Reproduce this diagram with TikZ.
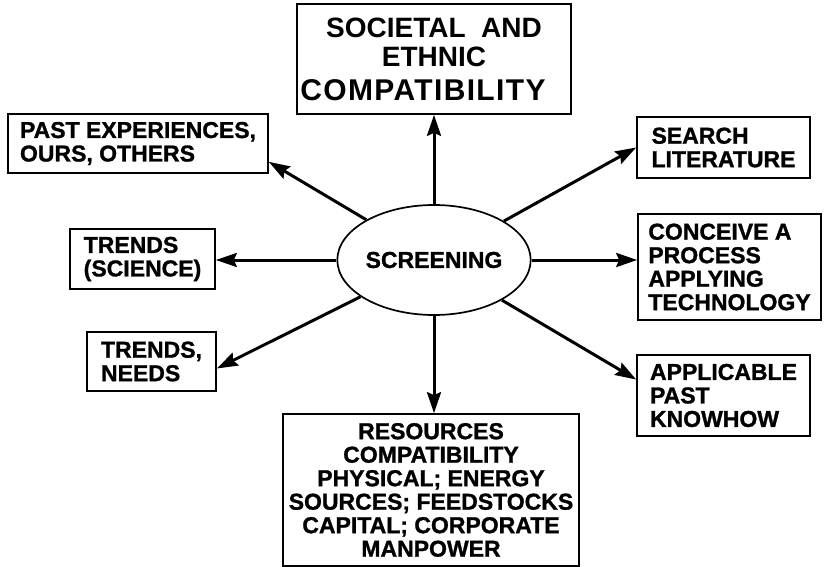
\documentclass[tikz,border=0pt]{standalone}
\usepackage{fontspec}
\setmainfont{Liberation Sans}
\newfontfamily\widefont[LetterSpace=4.5]{Liberation Sans}
\newfontfamily\heavy[BoldFeatures={FakeBold=1.2}]{Liberation Sans}
\usetikzlibrary{arrows.meta,shapes.geometric,calc}
\tikzset{
  box/.style={draw, line width=1.7pt, rectangle, inner sep=0pt, align=left,
    font=\heavy\fontsize{23}{23.5}\selectfont\bfseries},
  cbox/.style={box, align=center},
  arr/.style={line width=3pt, -{Stealth[length=21pt,width=14pt,inset=3pt]}},
}
\begin{document}
\begin{tikzpicture}[x=1pt,y=-1pt]
\useasboundingbox (0,0) rectangle (824,567);
% centre
\node[draw, ellipse, line width=1.7pt, minimum width=156pt, minimum height=110pt,
  inner sep=0pt, font=\heavy\fontsize{23}{23.5}\selectfont\bfseries] (sc) at (434,260) {SCREENING};
% boxes
\node[draw, line width=1.7pt, inner sep=0pt, minimum width=274pt, minimum height=110pt,
  align=center, font=\fontsize{28}{29}\selectfont\bfseries] (top) at (434,59)
  {SOCIETAL\ \ AND\\ETHNIC\\[5pt]{\widefont\bfseries\fontsize{30}{30}\selectfont COMPATIBILITY}\hspace*{22pt}};
\node[box, minimum width=260pt, minimum height=59pt] (past) at (138,143.5)
  {PAST EXPERIENCES,\\OURS, OTHERS};
\node[box, minimum width=145pt, minimum height=60pt] (trs) at (142.5,259)
  {TRENDS\\(SCIENCE)};
\node[box, minimum width=129pt, minimum height=59pt] (tn) at (151.5,361.5)
  {TRENDS,\\NEEDS};
\node[box, minimum width=173pt, minimum height=61pt] (sr) at (723.5,147.5)
  {SEARCH\\LITERATURE};
\node[box, minimum width=183pt, minimum height=106pt] (conc) at (729.5,267)
  {CONCEIVE A\\PROCESS\\APPLYING\\TECHNOLOGY};
\node[box, minimum width=173pt, minimum height=81pt] (app) at (723.5,395.5)
  {APPLICABLE\\PAST\\KNOWHOW};
\node[cbox, minimum width=296pt, minimum height=152pt] (res) at (431,490)
  {RESOURCES\\COMPATIBILITY\\PHYSICAL; ENERGY\\SOURCES; FEEDSTOCKS\\CAPITAL; CORPORATE\\MANPOWER};
% connector ends
\coordinate (pastend) at ($(past.south east)+(0,-12)$);
\coordinate (tnend) at ($(tn.east)+(0,7)$);
\coordinate (append) at ($(app.west)+(0,-16)$);
% arrows
\draw[arr] (sc) -- (top);
\draw[arr] (sc) -- (sc |- res.north);
\draw[arr] (sc) -- (sc -| trs.east);
\draw[arr] (sc) -- (sc -| conc.west);
\draw[arr] (sc) -- (pastend);
\draw[arr] (sc) -- (tnend);
\draw[arr] (sc) -- (sr.west);
\draw[arr] (sc) -- (append);
\end{tikzpicture}
\end{document}
